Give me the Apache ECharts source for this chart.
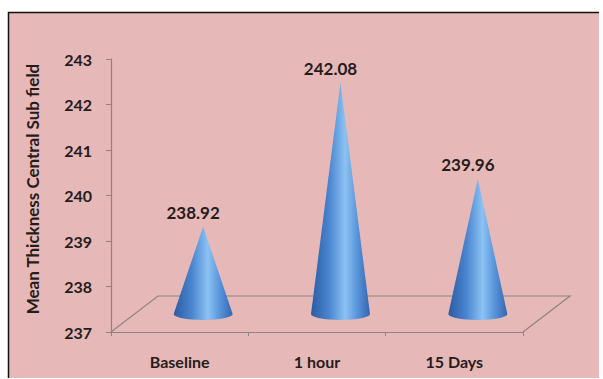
<!DOCTYPE html>
<html>
<head>
<meta charset="utf-8">
<script src="https://cdn.jsdelivr.net/npm/echarts@6/dist/echarts.min.js"></script>
<style>
  html, body { margin: 0; padding: 0; background: #ffffff; }
  #chart { width: 603px; height: 379px; }
</style>
</head>
<body>
<div id="chart"></div>
<script>
// Mean central sub-field thickness at each visit
const categories = ['Baseline', '1 hour', '15 Days'];
const thickness = [238.92, 242.08, 239.96];
const axisMin = 237;
const axisMax = 243;
const axisStep = 1;

// Oblique projection of the chart floor (pixels toward the back)
const DEPTH_X = 47;
const DEPTH_Y = -36;
const CONE_RX = 29.5;
const CONE_RY = 6;

const TEXT_COLOR = '#261c1c';
const LINE_COLOR = '#8c8484';
const FONT = 'Lato, "Open Sans", sans-serif';

const chart = echarts.init(document.getElementById('chart'), null, { renderer: 'svg' });

function renderFloor(params, api) {
  const front = api.coord([0, axisMin]);
  const band = api.size([1, 0])[0];
  const x0 = front[0] - band / 2;
  const x1 = x0 + band * categories.length;
  const y0 = front[1];
  return {
    type: 'polyline',
    shape: {
      points: [
        [x0, y0],
        [x0 + DEPTH_X, y0 + DEPTH_Y],
        [x1 + DEPTH_X, y0 + DEPTH_Y],
        [x1, y0]
      ]
    },
    style: { stroke: LINE_COLOR, lineWidth: 1.2, fill: null },
    silent: true
  };
}

function renderCone(params, api) {
  const idx = api.value(0);
  const val = api.value(1);
  const base = api.coord([idx, axisMin]);
  const tip = api.coord([idx, val]);
  const cx = base[0] + DEPTH_X / 2;
  const cy = base[1] + DEPTH_Y / 2;
  const ty = tip[1] + DEPTH_Y / 2;
  const path =
    'M' + (cx - CONE_RX) + ' ' + cy +
    ' L' + cx + ' ' + ty +
    ' L' + (cx + CONE_RX) + ' ' + cy +
    ' A' + CONE_RX + ' ' + CONE_RY + ' 0 0 1 ' + (cx - CONE_RX) + ' ' + cy + ' Z';
  return {
    type: 'group',
    children: [
      {
        type: 'path',
        shape: { pathData: path },
        style: {
          fill: {
            type: 'linear', x: 0, y: 0, x2: 1, y2: 0,
            colorStops: [
              { offset: 0, color: '#2c5ca3' },
              { offset: 0.3, color: '#4884ce' },
              { offset: 0.58, color: '#8cc2f3' },
              { offset: 0.78, color: '#5995db' },
              { offset: 1, color: '#3366b0' }
            ]
          },
          stroke: null
        }
      },
      {
        type: 'text',
        style: {
          text: val.toFixed(2),
          x: cx - 10,
          y: ty - 6,
          align: 'center',
          verticalAlign: 'bottom',
          fill: TEXT_COLOR,
          font: 'bold 17px ' + FONT
        }
      }
    ]
  };
}

chart.setOption({
  backgroundColor: '#ffffff',
  animation: false,
  graphic: [
    {
      type: 'rect',
      z: -10,
      shape: { x: 8, y: 12, width: 591, height: 366 },
      style: { fill: '#e6b9b8' }
    },
    {
      type: 'polyline',
      z: -9,
      shape: { points: [[8.5, 378], [8.5, 12.5], [599, 12.5]] },
      style: { stroke: '#111111', lineWidth: 1.5, fill: null }
    }
  ],
  grid: { left: 111, right: 80, top: 59, bottom: 47, containLabel: false },
  xAxis: {
    type: 'category',
    data: categories,
    boundaryGap: true,
    axisLine: { show: true, lineStyle: { color: LINE_COLOR, width: 1.2 } },
    axisTick: { show: true, length: 4, lineStyle: { color: LINE_COLOR } },
    axisLabel: {
      margin: 21,
      color: TEXT_COLOR,
      fontFamily: FONT,
      fontWeight: 'bold',
      fontSize: 16
    },
    splitLine: { show: false }
  },
  yAxis: {
    type: 'value',
    min: axisMin,
    max: axisMax,
    interval: axisStep,
    name: 'Mean Thickness Central Sub field',
    nameLocation: 'middle',
    nameGap: 70,
    nameTextStyle: {
      color: TEXT_COLOR,
      fontFamily: FONT,
      fontWeight: 'bold',
      fontSize: 17,
      padding: [0, 0, 0, 13]
    },
    axisLine: { show: true, lineStyle: { color: LINE_COLOR, width: 1.2 } },
    axisTick: { show: true, length: 5, lineStyle: { color: LINE_COLOR } },
    axisLabel: {
      margin: 19,
      color: TEXT_COLOR,
      fontFamily: FONT,
      fontWeight: 'bold',
      fontSize: 16
    },
    splitLine: { show: false }
  },
  series: [
    {
      type: 'custom',
      name: 'floor',
      z: 1,
      renderItem: renderFloor,
      data: [[0, axisMin]],
      silent: true
    },
    {
      type: 'custom',
      name: 'Mean thickness',
      z: 3,
      renderItem: renderCone,
      encode: { x: 0, y: 1 },
      data: thickness.map(function (v, i) { return [i, v]; })
    }
  ]
});
</script>
</body>
</html>
